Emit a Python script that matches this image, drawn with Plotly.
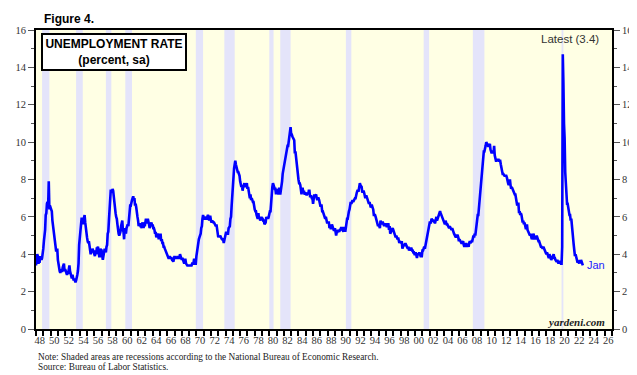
import plotly.graph_objects as go

# ---- data: US unemployment rate, monthly, seasonally adjusted (percent) ----
start_year = 1948
unrate_by_year = {
    1948: [3.4, 3.8, 4.0, 3.9, 3.5, 3.6, 3.6, 3.9, 3.8, 3.7, 3.8, 4.0],
    1949: [4.3, 4.7, 5.0, 5.3, 6.1, 6.2, 6.7, 6.8, 6.6, 7.9, 6.4, 6.6],
    1950: [6.5, 6.4, 6.3, 5.8, 5.5, 5.4, 5.0, 4.5, 4.4, 4.2, 4.2, 4.3],
    1951: [3.7, 3.4, 3.4, 3.1, 3.0, 3.2, 3.1, 3.1, 3.3, 3.5, 3.5, 3.1],
    1952: [3.2, 3.1, 2.9, 2.9, 3.0, 3.0, 3.2, 3.4, 3.1, 3.0, 2.8, 2.7],
    1953: [2.9, 2.6, 2.6, 2.7, 2.5, 2.5, 2.6, 2.7, 2.9, 3.1, 3.5, 4.5],
    1954: [4.9, 5.2, 5.7, 5.9, 5.9, 5.6, 5.8, 6.0, 6.1, 5.7, 5.3, 5.0],
    1955: [4.9, 4.7, 4.6, 4.7, 4.3, 4.2, 4.0, 4.2, 4.1, 4.3, 4.2, 4.2],
    1956: [4.0, 3.9, 4.2, 4.0, 4.3, 4.3, 4.4, 4.1, 3.9, 3.9, 4.3, 4.2],
    1957: [4.2, 3.9, 3.7, 3.9, 4.1, 4.3, 4.2, 4.1, 4.4, 4.5, 5.1, 5.2],
    1958: [5.8, 6.4, 6.7, 7.4, 7.4, 7.3, 7.5, 7.4, 7.1, 6.7, 6.2, 6.2],
    1959: [6.0, 5.9, 5.6, 5.2, 5.1, 5.0, 5.1, 5.2, 5.5, 5.7, 5.8, 5.3],
    1960: [5.2, 4.8, 5.4, 5.2, 5.1, 5.4, 5.5, 5.6, 5.5, 6.1, 6.1, 6.6],
    1961: [6.6, 6.9, 6.9, 7.0, 7.1, 6.9, 7.0, 6.6, 6.7, 6.5, 6.1, 6.0],
    1962: [5.8, 5.5, 5.6, 5.6, 5.5, 5.5, 5.4, 5.7, 5.6, 5.4, 5.7, 5.5],
    1963: [5.7, 5.9, 5.7, 5.7, 5.9, 5.6, 5.6, 5.4, 5.5, 5.5, 5.7, 5.5],
    1964: [5.6, 5.4, 5.4, 5.3, 5.1, 5.2, 4.9, 5.0, 5.1, 5.1, 4.8, 5.0],
    1965: [4.9, 5.1, 4.7, 4.8, 4.6, 4.6, 4.4, 4.4, 4.3, 4.2, 4.1, 4.0],
    1966: [4.0, 3.8, 3.8, 3.8, 3.9, 3.8, 3.8, 3.8, 3.7, 3.7, 3.6, 3.8],
    1967: [3.9, 3.8, 3.8, 3.8, 3.8, 3.9, 3.8, 3.8, 3.8, 4.0, 3.9, 3.8],
    1968: [3.7, 3.8, 3.7, 3.5, 3.5, 3.7, 3.7, 3.5, 3.4, 3.4, 3.4, 3.4],
    1969: [3.4, 3.4, 3.4, 3.4, 3.4, 3.5, 3.5, 3.5, 3.7, 3.7, 3.5, 3.5],
    1970: [3.9, 4.2, 4.4, 4.6, 4.8, 4.9, 5.0, 5.1, 5.4, 5.5, 5.9, 6.1],
    1971: [5.9, 5.9, 6.0, 5.9, 5.9, 5.9, 6.0, 6.1, 6.0, 5.8, 6.0, 6.0],
    1972: [5.8, 5.7, 5.8, 5.7, 5.7, 5.7, 5.6, 5.6, 5.5, 5.6, 5.3, 5.2],
    1973: [4.9, 5.0, 4.9, 5.0, 4.9, 4.9, 4.8, 4.8, 4.8, 4.6, 4.8, 4.9],
    1974: [5.1, 5.2, 5.1, 5.1, 5.1, 5.4, 5.5, 5.5, 5.9, 6.0, 6.6, 7.2],
    1975: [8.1, 8.1, 8.6, 8.8, 9.0, 8.8, 8.6, 8.4, 8.4, 8.4, 8.3, 8.2],
    1976: [7.9, 7.7, 7.6, 7.7, 7.4, 7.6, 7.8, 7.8, 7.6, 7.7, 7.8, 7.8],
    1977: [7.5, 7.6, 7.4, 7.2, 7.0, 7.2, 6.9, 7.0, 6.8, 6.8, 6.8, 6.4],
    1978: [6.4, 6.3, 6.3, 6.1, 6.0, 5.9, 6.2, 5.9, 6.0, 5.8, 5.9, 6.0],
    1979: [5.9, 5.9, 5.8, 5.8, 5.6, 5.7, 5.7, 6.0, 5.9, 6.0, 5.9, 6.0],
    1980: [6.3, 6.3, 6.3, 6.9, 7.5, 7.6, 7.8, 7.7, 7.5, 7.5, 7.5, 7.2],
    1981: [7.5, 7.4, 7.4, 7.2, 7.5, 7.5, 7.2, 7.4, 7.6, 7.9, 8.3, 8.5],
    1982: [8.6, 8.9, 9.0, 9.3, 9.4, 9.6, 9.8, 9.8, 10.1, 10.4, 10.8, 10.8],
    1983: [10.4, 10.4, 10.3, 10.2, 10.1, 10.1, 9.4, 9.5, 9.2, 8.8, 8.5, 8.3],
    1984: [8.0, 7.8, 7.8, 7.7, 7.4, 7.2, 7.5, 7.5, 7.3, 7.4, 7.2, 7.3],
    1985: [7.3, 7.2, 7.2, 7.3, 7.2, 7.4, 7.4, 7.1, 7.1, 7.1, 7.0, 7.0],
    1986: [6.7, 7.2, 7.2, 7.1, 7.2, 7.2, 7.0, 6.9, 7.0, 7.0, 6.9, 6.6],
    1987: [6.6, 6.6, 6.6, 6.3, 6.3, 6.2, 6.1, 6.0, 5.9, 6.0, 5.8, 5.7],
    1988: [5.7, 5.7, 5.7, 5.4, 5.6, 5.4, 5.4, 5.6, 5.4, 5.4, 5.3, 5.3],
    1989: [5.4, 5.2, 5.0, 5.2, 5.2, 5.3, 5.2, 5.2, 5.3, 5.3, 5.4, 5.4],
    1990: [5.4, 5.3, 5.2, 5.4, 5.4, 5.2, 5.5, 5.7, 5.9, 5.9, 6.2, 6.3],
    1991: [6.4, 6.6, 6.8, 6.7, 6.9, 6.9, 6.8, 6.9, 6.9, 7.0, 7.0, 7.3],
    1992: [7.3, 7.4, 7.4, 7.4, 7.6, 7.8, 7.7, 7.6, 7.6, 7.3, 7.4, 7.4],
    1993: [7.3, 7.1, 7.0, 7.1, 7.1, 7.0, 6.9, 6.8, 6.7, 6.8, 6.6, 6.5],
    1994: [6.6, 6.6, 6.5, 6.4, 6.1, 6.1, 6.1, 6.0, 5.9, 5.8, 5.6, 5.5],
    1995: [5.6, 5.4, 5.4, 5.8, 5.6, 5.6, 5.7, 5.7, 5.6, 5.5, 5.6, 5.6],
    1996: [5.6, 5.5, 5.5, 5.6, 5.6, 5.3, 5.5, 5.1, 5.2, 5.2, 5.4, 5.4],
    1997: [5.3, 5.2, 5.2, 5.1, 4.9, 5.0, 4.9, 4.8, 4.9, 4.7, 4.6, 4.7],
    1998: [4.6, 4.6, 4.7, 4.3, 4.4, 4.5, 4.5, 4.5, 4.6, 4.5, 4.4, 4.4],
    1999: [4.3, 4.4, 4.2, 4.3, 4.2, 4.3, 4.3, 4.2, 4.2, 4.1, 4.1, 4.0],
    2000: [4.0, 4.1, 4.0, 3.8, 4.0, 4.0, 4.0, 4.1, 3.9, 3.9, 3.9, 3.9],
    2001: [4.2, 4.2, 4.3, 4.4, 4.3, 4.5, 4.6, 4.9, 5.0, 5.3, 5.5, 5.7],
    2002: [5.7, 5.7, 5.7, 5.9, 5.8, 5.8, 5.8, 5.7, 5.7, 5.7, 5.9, 6.0],
    2003: [5.8, 5.9, 5.9, 6.0, 6.1, 6.3, 6.2, 6.1, 6.1, 6.0, 5.8, 5.7],
    2004: [5.7, 5.6, 5.8, 5.6, 5.6, 5.6, 5.5, 5.4, 5.4, 5.5, 5.4, 5.4],
    2005: [5.3, 5.4, 5.2, 5.2, 5.1, 5.0, 5.0, 4.9, 5.0, 5.0, 5.0, 4.9],
    2006: [4.7, 4.8, 4.7, 4.7, 4.6, 4.6, 4.7, 4.7, 4.5, 4.4, 4.5, 4.4],
    2007: [4.6, 4.5, 4.4, 4.5, 4.4, 4.6, 4.7, 4.6, 4.7, 4.7, 4.7, 5.0],
    2008: [5.0, 4.9, 5.1, 5.0, 5.4, 5.6, 5.8, 6.1, 6.1, 6.5, 6.8, 7.3],
    2009: [7.8, 8.3, 8.7, 9.0, 9.4, 9.5, 9.5, 9.6, 9.8, 10.0, 9.9, 9.9],
    2010: [9.8, 9.8, 9.9, 9.9, 9.6, 9.4, 9.4, 9.5, 9.5, 9.4, 9.8, 9.3],
    2011: [9.1, 9.0, 9.0, 9.1, 9.0, 9.1, 9.0, 9.0, 9.0, 8.8, 8.6, 8.5],
    2012: [8.3, 8.3, 8.2, 8.2, 8.2, 8.2, 8.2, 8.1, 7.8, 7.8, 7.7, 7.9],
    2013: [8.0, 7.7, 7.5, 7.6, 7.5, 7.5, 7.3, 7.2, 7.2, 7.2, 6.9, 6.7],
    2014: [6.6, 6.7, 6.7, 6.2, 6.3, 6.1, 6.2, 6.1, 5.9, 5.7, 5.8, 5.6],
    2015: [5.7, 5.5, 5.4, 5.4, 5.6, 5.3, 5.2, 5.1, 5.0, 5.0, 5.1, 5.0],
    2016: [4.8, 4.9, 5.0, 5.1, 4.8, 4.9, 4.8, 4.9, 5.0, 4.9, 4.7, 4.7],
    2017: [4.7, 4.6, 4.4, 4.4, 4.4, 4.3, 4.3, 4.4, 4.3, 4.2, 4.2, 4.1],
    2018: [4.0, 4.1, 4.0, 4.0, 3.8, 4.0, 3.8, 3.8, 3.7, 3.8, 3.8, 3.9],
    2019: [4.0, 3.8, 3.8, 3.7, 3.6, 3.6, 3.7, 3.6, 3.5, 3.6, 3.6, 3.6],
    2020: [3.5, 3.5, 4.4, 14.7, 13.2, 11.0, 10.2, 8.4, 7.9, 6.9, 6.7, 6.7],
    2021: [6.4, 6.2, 6.1, 6.1, 5.8, 5.9, 5.4, 5.2, 4.7, 4.5, 4.2, 3.9],
    2022: [4.0, 3.8, 3.6, 3.6, 3.6, 3.6, 3.5, 3.7, 3.5, 3.7, 3.6, 3.5],
    2023: [3.4],
}

# NBER recessions (peak month, trough month) as (year, month)
recession_starts = [(1948, 11), (1953, 7), (1957, 8), (1960, 4), (1969, 12), (1973, 11),
                    (1980, 1), (1981, 7), (1990, 7), (2001, 3), (2007, 12), (2020, 2)]
recession_ends = [(1949, 10), (1954, 5), (1958, 4), (1961, 2), (1970, 11), (1975, 3),
                  (1980, 7), (1982, 11), (1991, 3), (2001, 11), (2009, 6), (2020, 4)]

y_ticks = [0, 2, 4, 6, 8, 10, 12, 14, 16]
x_label_years = list(range(1948, 2027, 2))
latest_label = "Latest (3.4)"
last_month_label = "Jan"

# ---- build series ----
xs, ys = [], []
for yr in sorted(unrate_by_year):
    for m, v in enumerate(unrate_by_year[yr]):
        xs.append(yr + m / 12.0)
        ys.append(v)

def dec(ym, end=False):
    y, m = ym
    return y + (m - 1) / 12.0 + (1 / 12.0 if end else 0)

fig = go.Figure()

fig.add_trace(go.Scatter(x=xs, y=ys, mode="lines",
                         line=dict(color="#0000FF", width=2.6),
                         showlegend=False, hoverinfo="x+y"))
# invisible trace so the right axis is drawn
fig.add_trace(go.Scatter(x=[xs[0]], y=[ys[0]], yaxis="y2", mode="markers",
                         marker=dict(opacity=0), showlegend=False, hoverinfo="skip"))

shapes = []
for s, e in zip(recession_starts, recession_ends):
    shapes.append(dict(type="rect", xref="x", yref="paper", x0=dec(s), x1=dec(e, True),
                       y0=0, y1=1, fillcolor="#E4E4FA", line=dict(width=0), layer="below"))

serif = "Liberation Serif, Times New Roman, serif"
sans = "Liberation Sans, Arial, sans-serif"
tick_font = dict(family=serif, size=10.5, color="#333333")

# page body has an 8px default margin, so the figure is offset by 8px; compensate in margins
fig.update_layout(
    width=637, height=375,
    margin=dict(l=28, r=33, t=22, b=54, autoexpand=False),
    paper_bgcolor="white",
    plot_bgcolor="#FFFFE4",
    shapes=shapes,
    xaxis=dict(range=[1948, 2027], showgrid=False, zeroline=False, automargin=False,
               showline=True, linecolor="black", linewidth=2, mirror=True,
               tickmode="array", tickvals=[y + 0.5 for y in x_label_years],
               ticktext=[f"{y % 100:02d}" for y in x_label_years],
               ticks="", tickfont=tick_font,
               minor=dict(tickmode="array", tickvals=list(range(1948, 2028)),
                          ticks="outside", ticklen=5, tickwidth=1.5, tickcolor="black")),
    yaxis=dict(range=[0, 16], showgrid=False, zeroline=False, automargin=False,
               showline=True, linecolor="black", linewidth=2, mirror=True,
               tickmode="array", tickvals=y_ticks, ticks="outside", ticklen=6,
               tickcolor="#555555", tickwidth=1, tickfont=tick_font,
               minor=dict(tickmode="array", tickvals=[1, 3, 5, 7, 9, 11, 13, 15],
                          ticks="outside", ticklen=3, tickcolor="#555555")),
    yaxis2=dict(range=[0, 16], overlaying="y", side="right", showgrid=False, zeroline=False,
                automargin=False,
                showline=True, linecolor="black", linewidth=2,
                tickmode="array", tickvals=y_ticks, ticks="outside", ticklen=6,
                tickcolor="#555555", tickwidth=1, tickfont=tick_font,
                minor=dict(tickmode="array", tickvals=[1, 3, 5, 7, 9, 11, 13, 15],
                           ticks="outside", ticklen=3, tickcolor="#555555")),
)

annotations = [
    dict(text="<b>Figure 4.</b>", xref="paper", yref="paper", x=0.010, y=1.037,
         xanchor="left", yanchor="middle", showarrow=False,
         font=dict(family=sans, size=12, color="black")),
    dict(text="<b>UNEMPLOYMENT RATE<br>(percent, sa)</b>", xref="paper", yref="paper",
         x=0.009, y=0.990, xanchor="left", yanchor="top", showarrow=False,
         align="center", bgcolor="white", bordercolor="black", borderwidth=2, borderpad=2,
         width=138, height=30,
         font=dict(family=sans, size=12, color="black")),
    dict(text=latest_label, xref="paper", yref="paper", x=0.927, y=0.970,
         xanchor="center", yanchor="middle", showarrow=False,
         font=dict(family=sans, size=11.5, color="#333333")),
    dict(text=last_month_label, xref="x", yref="y", x=xs[-1], y=ys[-1],
         xanchor="left", yanchor="middle", xshift=2, showarrow=False,
         font=dict(family=sans, size=11, color="#2222FF")),
    dict(text="<b><i>yardeni.com</i></b>", xref="paper", yref="paper", x=0.991, y=0.023,
         xanchor="right", yanchor="middle", showarrow=False,
         font=dict(family=serif, size=11, color="#222222")),
    dict(text="Note: Shaded areas are recessions according to the National Bureau of Economic Research.",
         xref="paper", yref="paper", x=0.0, y=-0.094, xanchor="left", yanchor="middle",
         showarrow=False, font=dict(family=serif, size=9.3, color="#222222")),
    dict(text="Source: Bureau of Labor Statistics.",
         xref="paper", yref="paper", x=0.0, y=-0.127, xanchor="left", yanchor="middle",
         showarrow=False, font=dict(family=serif, size=9.3, color="#222222")),
]
fig.update_layout(annotations=annotations)

fig.write_html("out.html")
